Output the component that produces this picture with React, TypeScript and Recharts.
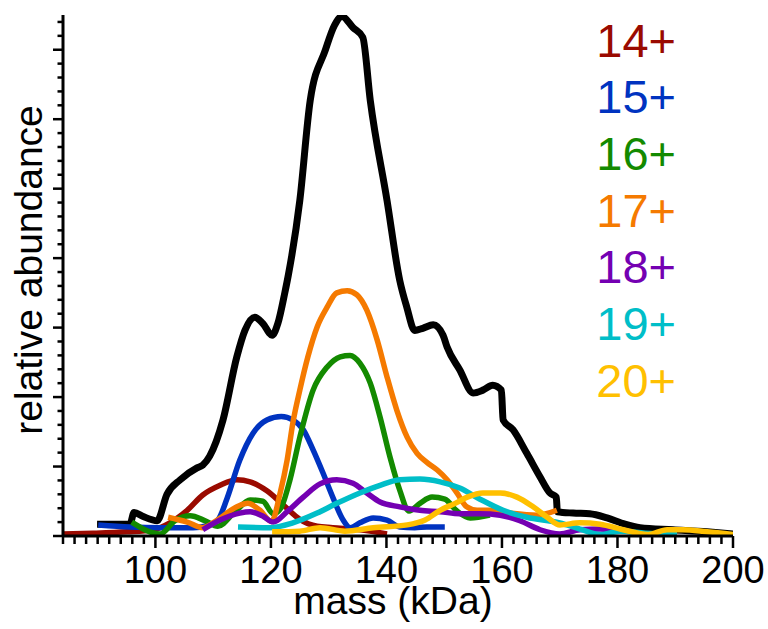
import React from 'react';
import { LineChart, Line, XAxis, YAxis } from 'recharts';

const W = 768;
const H = 629;

// tick labels / axis ticks
const xMajorTicks = [100, 120, 140, 160, 180, 200];
const xAllTicks: number[] = [];
for (let t = 84; t <= 200; t += 2) xAllTicks.push(t);
const yAllTicks: number[] = [];
for (let t = 0; t <= 74; t += 2) yAllTicks.push(t);

const chargeLabels = ['14+', '15+', '16+', '17+', '18+', '19+', '20+'];
const chargeColors = ['#9a0a00', '#0033c0', '#138a00', '#f57a00', '#7400b2', '#00bec8', '#ffc000'];

// [mass (kDa), relative abundance]
const total: [number, number][] = [
  [89.9, 1.7], [95.6, 1.7], [96.3, 3.4], [97.9, 2.8], [100.3, 2.2], [102.0, 6.0], [104.3, 8.1],
  [107.2, 9.8], [108.2, 10.2], [109.4, 11.5], [111.7, 16.7], [114.1, 25.8], [115.5, 29.6],
  [117.2, 31.5], [118.6, 30.6], [120.2, 28.9], [121.2, 30.6], [122.4, 35.0], [123.0, 37.5],
  [125.0, 48.3], [126.8, 62.7], [129.4, 69.9], [131.0, 73.5], [132.3, 74.8], [134.2, 73.2],
  [135.9, 71.8], [137.2, 62.7], [140.1, 48.3], [142.3, 36.8], [143.5, 33.0], [144.9, 29.6],
  [146.3, 29.9], [148.1, 30.4], [149.8, 28.9], [150.5, 27.2], [152.7, 23.9], [155.0, 20.6],
  [156.7, 21.0], [158.4, 21.7], [159.9, 21.0], [160.2, 16.7], [161.9, 15.3], [164.3, 11.9],
  [166.6, 8.5], [168.3, 6.2], [169.4, 5.6], [169.6, 3.5], [172.3, 3.3], [175.2, 3.2],
  [178.2, 2.6], [181.3, 1.7], [183.9, 1.2], [189.6, 0.9], [195.5, 0.6], [200.0, 0.3],
];

const z14: [number, number][] = [
  [84, 0.3], [89.2, 0.4], [95.1, 0.6], [99.6, 0.9], [102.5, 1.9], [105.5, 3.7], [108.2, 5.9],
  [111.2, 7.3], [114.1, 8.1], [116.4, 7.8], [119.3, 6.5], [122.1, 4.5], [125.0, 2.4],
  [128.0, 1.4], [130.7, 1.2], [135.4, 0.9], [140.1, 0.3],
];

const z15: [number, number][] = [
  [90.1, 1.6], [95.6, 1.3], [100.8, 1.2], [106.5, 1.2], [109.4, 1.6], [110.9, 2.4], [112.4, 5.4],
  [114.6, 10.9], [116.9, 14.8], [119.3, 16.7], [121.8, 17.2], [123.8, 16.7], [125.6, 15.3],
  [127.3, 12.4], [129.0, 9.1], [130.7, 5.6], [132.5, 2.3], [133.7, 1.2], [135.4, 1.9],
  [137.7, 2.6], [140.1, 2.3], [142.3, 1.3], [144.9, 1.2], [147.0, 1.3], [150.1, 1.3],
];

const z16: [number, number][] = [
  [95.9, 2.0], [100.8, 0.3], [103.4, 2.2], [106.0, 2.9], [108.6, 2.2], [110.8, 1.4], [113.8, 3.5],
  [116.4, 5.2], [118.6, 5.0], [120.4, 3.2], [121.7, 4.0], [123.3, 8.1], [125.0, 14.2],
  [127.3, 21.0], [129.7, 24.3], [132.0, 25.8], [133.7, 26.0], [135.4, 24.9], [137.2, 22.0],
  [138.9, 17.1], [140.6, 11.4], [142.3, 6.6], [143.9, 3.6], [145.8, 4.7], [147.9, 5.6],
  [150.1, 5.3], [152.2, 3.6], [154.5, 2.6], [157.9, 3.0],
];

const z17: [number, number][] = [
  [102.2, 2.7], [105.5, 2.0], [108.2, 1.2], [110.7, 2.3], [114.1, 4.2], [116.0, 4.7], [118.1, 3.7],
  [120.1, 2.1], [121.6, 6.2], [122.8, 10.9], [123.8, 16.3], [125.0, 21.0], [126.4, 25.8],
  [128.0, 30.1], [129.7, 32.9], [131.4, 35.0], [133.2, 35.3], [134.9, 34.7], [136.6, 32.5],
  [138.4, 28.2], [140.1, 22.9], [141.8, 18.1], [143.6, 14.2], [145.3, 11.9], [147.0, 10.6],
  [148.8, 9.5], [150.5, 8.1], [152.2, 6.2], [153.9, 4.2], [155.7, 3.7], [157.9, 3.7],
  [161.4, 3.3], [166.1, 3.0], [169.5, 3.7],
];

const z18: [number, number][] = [
  [108.2, 0.9], [111.2, 2.3], [114.6, 3.3], [116.4, 3.5], [118.5, 2.9], [120.4, 2.0], [122.8, 3.5],
  [125.6, 5.6], [128.5, 7.5], [131.4, 8.1], [134.2, 7.6], [136.6, 6.2], [138.9, 4.9],
  [142.3, 4.2], [145.8, 3.7], [149.3, 3.5], [152.7, 3.2], [156.2, 3.2], [159.7, 3.0],
  [163.1, 2.2], [166.6, 0.9], [170.0, 0.3], [173.5, 0.9], [177.0, 1.0], [180.4, 0.7],
];

const z19: [number, number][] = [
  [114.3, 1.3], [119.8, 1.2], [123.8, 1.9], [128.0, 3.3], [131.4, 4.7], [135.4, 6.2], [138.9, 7.3],
  [142.3, 8.1], [145.8, 8.2], [149.3, 7.8], [152.7, 6.9], [156.2, 5.3], [160.2, 3.7],
  [164.3, 2.7], [170.0, 1.9], [173.5, 1.0], [177.0, 0.2], [180.4, 0.7], [184.8, 0.4], [190.3, 0.2],
];

const z20: [number, number][] = [
  [120.2, 0.6], [125.0, 0.7], [128.5, 1.2], [132.8, 0.7], [137.7, 1.2], [143.6, 1.6], [146.7, 2.3],
  [149.3, 3.7], [151.9, 4.7], [154.0, 5.6], [156.7, 6.2], [159.7, 6.2], [162.6, 5.6],
  [165.4, 4.2], [168.0, 2.6], [170.0, 1.6], [173.5, 1.9], [177.0, 1.7], [181.0, 0.9],
  [185.3, 0.2], [188.6, 0.9], [191.3, 0.9], [195.5, 0.6], [200.0, 0.2],
];

const chargeSeries = [z14, z15, z16, z17, z18, z19, z20];

const toRows = (s: [number, number][]) => s.map(([m, v]) => ({ m, v }));

const FONT = '"Liberation Sans", Arial, Helvetica, sans-serif';

const XTick = (props: any) => {
  const { x, y, payload } = props;
  const v = payload.value as number;
  const major = xMajorTicks.includes(v);
  return (
    <g>
      <line x1={x} x2={x} y1={y} y2={y + (major ? 12 : 8)} stroke="#000" strokeWidth={2.5} />
      {major && (
        <text x={x} y={y + 47} textAnchor="middle" fontSize={38} fontFamily={FONT} fill="#000">
          {v}
        </text>
      )}
    </g>
  );
};

const YTick = (props: any) => {
  const { x, y, payload } = props;
  const v = payload.value as number;
  const major = v % 10 === 0;
  return <line x1={x} x2={x - (major ? 10 : 5.5)} y1={y} y2={y} stroke="#000" strokeWidth={2.5} />;
};

export default function App() {
  return (
    <div style={{ position: 'absolute', left: 0, top: 0, width: W, height: H, background: '#fff' }}>
      <LineChart width={W} height={H} margin={{ top: 15, right: 35, bottom: 0, left: 0 }}>
        <XAxis
          type="number"
          dataKey="m"
          domain={[84, 200]}
          ticks={xAllTicks}
          interval={0}
          tick={<XTick />}
          tickLine={false}
          tickSize={0}
          tickMargin={0}
          height={93}
          axisLine={{ stroke: '#000', strokeWidth: 3 }}
          allowDataOverflow
        />
        <YAxis
          type="number"
          dataKey="v"
          domain={[0, 75]}
          ticks={yAllTicks}
          interval={0}
          tick={<YTick />}
          tickLine={false}
          tickSize={0}
          tickMargin={0}
          width={63}
          axisLine={{ stroke: '#000', strokeWidth: 3 }}
          allowDataOverflow
        />
        <Line
          data={toRows(total)}
          dataKey="v"
          type="monotone"
          stroke="#000"
          strokeWidth={7}
          dot={false}
          activeDot={false}
          strokeLinejoin="round"
          isAnimationActive={false}
        />
        {chargeSeries.map((s, i) => (
          <Line
            key={chargeLabels[i]}
            data={toRows(s)}
            dataKey="v"
            type="monotone"
            stroke={chargeColors[i]}
            strokeWidth={5.5}
            dot={false}
            activeDot={false}
            strokeLinejoin="round"
            isAnimationActive={false}
          />
        ))}
      </LineChart>
      <svg
        width={W}
        height={H}
        style={{ position: 'absolute', left: 0, top: 0, pointerEvents: 'none' }}
      >
        {chargeLabels.map((lab, i) => (
          <text
            key={lab}
            x={676}
            y={56.5 + i * 56.7}
            textAnchor="end"
            fontSize={47}
            fontFamily={FONT}
            fill={chargeColors[i]}
          >
            {lab}
          </text>
        ))}
        <text x={393} y={614} textAnchor="middle" fontSize={39} fontFamily={FONT} fill="#000">
          mass (kDa)
        </text>
        <text
          x={42}
          y={270}
          transform="rotate(-90, 42, 270)"
          textAnchor="middle"
          fontSize={39}
          fontFamily={FONT}
          fill="#000"
        >
          relative abundance
        </text>
      </svg>
    </div>
  );
}
